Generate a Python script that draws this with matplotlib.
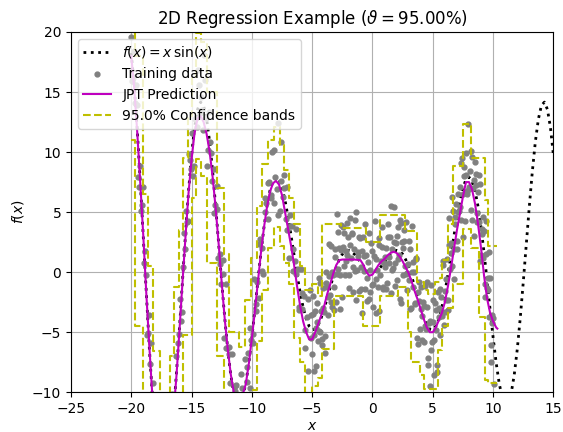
import numpy as np
import matplotlib.pyplot as plt

# true function f(x) = x sin(x), sampled every 0.25 from -20 to 15
F_X = np.linspace(-20, 15, 141)
F_Y = [18.26, 15.48, 11.81, 7.50, 2.85, -1.86, -6.33, -10.30, -13.52, -15.82,
       -17.07, -17.24, -16.34, -14.47, -11.75, -8.38, -4.61, -0.66, 3.20, 6.74,
       9.75, 12.07, 13.56, 14.16, 13.87, 12.73, 10.85, 8.37, 5.46, 2.33,
       -0.83, -3.81, -6.44, -8.56, -10.07, -10.89, -11.00, -10.42, -9.24, -7.53,
       -5.44, -3.12, -0.71, 1.61, 3.71, 5.47, 6.79, 7.57, 7.92, 7.71,
       7.04, 5.97, 4.60, 3.04, 1.40, -0.21, -1.68, -2.93, -3.88, -4.51,
       -4.79, -4.75, -4.40, -3.80, -3.03, -2.14, -1.23, -0.35, 0.42, 1.05,
       1.50, 1.75, 1.82, 1.72, 1.50, 1.19, 0.84, 0.51, 0.24, 0.06,
       0.00,
       0.06, 0.24, 0.51, 0.84, 1.19, 1.50, 1.72, 1.82, 1.75, 1.50,
       1.05, 0.42, -0.35, -1.23, -2.14, -3.03, -3.80, -4.40, -4.75, -4.79,
       -4.51, -3.88, -2.93, -1.68, -0.21, 1.40, 3.04, 4.60, 5.97, 7.04,
       7.71, 7.92, 7.57, 6.79, 5.47, 3.71, 1.61, -0.71, -3.12, -5.44,
       -7.53, -9.24, -10.42, -11.00, -10.89, -10.07, -8.56, -6.44, -3.81, -0.83,
       2.33, 5.46, 8.37, 10.85, 12.73, 13.87, 14.16, 13.56, 12.07, 9.75]

# noisy training samples (first batch)
X_TRAIN = [
    -20.06, -19.93, -19.81, -19.68, -19.56, -19.43, -19.31, -19.18, -19.06, -18.93,
    -18.81, -18.68, -18.56, -18.43, -18.31, -18.18, -18.06, -17.93, -17.81, -17.68,
    -17.56, -17.43, -17.31, -17.18, -17.06, -16.93, -16.81, -16.68, -16.56, -16.43,
    -16.31, -16.18, -16.06, -15.93, -15.81, -15.68, -15.56, -15.43, -15.31, -15.18,
    -15.06, -14.93, -14.81, -14.68, -14.56, -14.43, -14.31, -14.18, -14.06, -13.93,
    -13.81, -13.68, -13.56, -13.43, -13.31, -13.18, -13.06, -12.93, -12.81, -12.68,
    -12.56, -12.43, -12.31, -12.18, -12.06, -11.93, -11.81, -11.68, -11.56, -11.43,
    -11.31, -11.18, -11.06, -10.93, -10.81, -10.68, -10.56, -10.43, -10.31, -10.18,
    -10.06, -9.93, -9.81, -9.68, -9.56, -9.43, -9.31, -9.18, -9.06, -8.93,
    -8.81, -8.68, -8.56, -8.43, -8.31, -8.18, -8.06, -7.93, -7.81, -7.68,
    -7.56, -7.43, -7.31, -7.18, -7.06, -6.93, -6.81, -6.68, -6.56, -6.43,
    -6.31, -6.18, -6.06, -5.93, -5.81, -5.68, -5.56, -5.43, -5.31, -5.18,
    -5.08, -5.0, -4.92, -4.83, -4.75, -4.67, -4.58, -4.5, -4.42, -4.33,
    -4.25, -4.17, -4.08, -4.0, -3.92, -3.83, -3.75, -3.67, -3.58, -3.5,
    -3.42, -3.33, -3.25, -3.17, -3.08, -3.0, -2.92, -2.83, -2.75, -2.67,
    -2.58, -2.5, -2.42, -2.33, -2.25, -2.17, -2.08, -2.0, -1.92, -1.83,
    -1.75, -1.67, -1.58, -1.5, -1.42, -1.33, -1.25, -1.17, -1.08, -1.0,
    -0.92, -0.83, -0.75, -0.67, -0.58, -0.5, -0.42, -0.33, -0.25, -0.17,
    -0.08, 0.0, 0.08, 0.17, 0.25, 0.33, 0.42, 0.5, 0.58, 0.67,
    0.75, 0.83, 0.92, 1.0, 1.08, 1.17, 1.25, 1.33, 1.42, 1.5,
    1.58, 1.67, 1.75, 1.83, 1.92, 2.0, 2.08, 2.17, 2.25, 2.33,
    2.42, 2.5, 2.58, 2.67, 2.75, 2.83, 2.92, 3.0, 3.08, 3.17,
    3.25, 3.33, 3.42, 3.5, 3.58, 3.67, 3.75, 3.83, 3.92, 4.0,
    4.08, 4.17, 4.25, 4.33, 4.42, 4.5, 4.58, 4.67, 4.75, 4.83,
    4.92, 5.0, 5.08, 5.17, 5.25, 5.33, 5.42, 5.5, 5.58, 5.67,
    5.75, 5.83, 5.92, 6.0, 6.08, 6.17, 6.25, 6.33, 6.42, 6.5,
    6.58, 6.67, 6.75, 6.83, 6.92, 7.0, 7.08, 7.17, 7.25, 7.33,
    7.42, 7.5, 7.58, 7.67, 7.75, 7.83, 7.92, 8.0, 8.08, 8.17,
    8.25, 8.33, 8.42, 8.5, 8.58, 8.67, 8.75, 8.83, 8.92, 9.0,
    9.08, 9.17, 9.25, 9.33, 9.42, 9.5, 9.58, 9.67, 9.75, 9.83,
    9.92, 10.0, 10.08]
Y_TRAIN = [
    19.57, 15.88, 18.45, 14.05, 13.89, 7.90, 8.83, 5.10, 7.07, 0.73,
    -0.23, -5.21, -3.56, -7.64, -12.75, -9.20, -12.05, -15.56, -14.27, -16.77,
    -14.17, -19.02, -17.10, -17.90, -15.06, -18.22, -11.32, -14.21, -11.60, -12.01,
    -6.99, -10.32, -5.11, -2.20, -3.31, 0.42, 1.97, 5.09, 4.29, 9.88,
    8.63, 11.60, 8.81, 12.79, 12.10, 16.83, 13.22, 14.58, 11.84, 18.10,
    12.80, 8.80, 13.30, 10.86, 7.57, 8.56, 5.56, 7.18, 1.18, 1.55,
    -0.97, -0.16, -5.49, -0.95, -6.31, -6.24, -9.25, -6.78, -12.71, -9.90,
    -9.39, -12.62, -10.97, -11.14, -9.66, -11.69, -7.22, -9.16, -6.74, -9.64,
    -5.64, -5.89, -0.58, -3.25, -0.79, -2.16, 2.75, 2.00, -0.19, 6.20,
    5.75, 4.44, 7.47, 6.41, 9.98, 5.77, 7.94, 6.96, 12.40, 5.12,
    10.80, 6.24, 7.03, 4.39, 7.13, 1.16, 3.81, 3.88, 0.09, 0.95,
    -0.12, 0.28, -2.93, 0.27, -3.03, -2.00, -6.35, -3.76, -8.20, -1.49,
    -3.60, -6.79, -1.98, -5.26, -3.25, -7.84, -4.11, -5.70, -0.51, -4.99,
    -3.20, -6.05, -1.28, -3.33, -6.75, -0.02, -1.24, -3.55, -0.32, -1.93,
    2.15, -2.93, -0.25, -1.20, 1.97, -2.48, 4.82, 0.25, 2.05, -0.21,
    3.96, -2.10, 2.08, 3.27, -0.25, 1.77, 1.40, 2.92, -0.21, 4.55,
    1.22, 3.15, -1.63, 1.90, 0.10, 4.99, 0.19, 1.68, -1.55, 2.84,
    0.43, -3.38, 2.91, 1.32, -1.37, 1.44, -0.52, 3.22, -2.24, 0.14,
    -1.08, 1.80, -2.88, 4.24, -0.54, 1.12, -1.22, 2.84, -3.27, 0.92,
    2.11, -1.38, 0.73, 0.44, 2.05, -0.92, 3.99, 0.79, 2.90, -1.70,
    1.97, 0.35, 5.42, 0.75, 2.39, -0.68, 3.80, 1.47, -2.25, 4.07,
    2.48, -0.20, 2.56, 0.49, 4.15, -1.45, 0.72, -0.68, 1.97, -3.00,
    3.85, -1.23, 0.05, -2.63, 1.08, -5.45, -1.64, -0.82, -4.75, -3.03,
    -3.68, -2.45, -5.80, -1.19, -4.71, -2.90, -7.71, -4.24, -9.50, -1.06,
    -5.78, -4.19, -8.60, -2.60, -4.81, -8.31, -1.68, -2.98, -5.27, -2.03,
    -3.63, 0.57, -4.38, -1.58, -2.31, 1.12, -3.11, 4.51, 0.28, 2.40,
    0.52, 5.12, -0.56, 4.04, 5.70, 2.60, 5.04, 5.13, 7.07, 4.31,
    9.50, 6.54, 8.75, 4.30, 8.11, 6.48, 12.30, 6.92, 8.41, 5.18,
    9.57, 7.02, 3.04, 9.19, 7.27, 4.19, 6.67, 4.21, 7.37, 1.41,
    3.14, 1.18, 3.41, -2.03, 4.23, -1.31, -0.48, -3.75, -0.52, -7.46,
    -4.20, -3.84, -9.30]

# noisy training samples (second batch)
X_TRAIN2 = [
    -19.875, -19.625, -19.375, -19.125, -18.875, -18.625, -18.375, -18.125,
    -17.875, -17.625, -17.375, -17.125, -16.875, -16.625, -16.375, -16.125,
    -15.875, -15.625, -15.375, -15.125, -14.875, -14.625, -14.375, -14.125,
    -13.875, -13.625, -13.375, -13.125, -12.875, -12.625, -12.375, -12.125,
    -11.875, -11.625, -11.375, -11.125, -10.875, -10.625, -10.375, -10.125,
    -9.875, -9.625, -9.375, -9.125, -8.875, -8.625, -8.375, -8.125,
    -7.875, -7.625, -7.375, -7.125, -6.875, -6.625, -6.375, -6.125,
    -5.875, -5.625, -5.375, -5.125,
    -4.96, -4.875, -4.71, -4.625, -4.46, -4.375, -4.21, -4.125, -3.96, -3.875,
    -3.71, -3.625, -3.46, -3.375, -3.21, -3.125, -2.96, -2.875, -2.71, -2.625,
    -2.46, -2.375, -2.21, -2.125, -1.96, -1.875, -1.71, -1.625, -1.46, -1.375,
    -1.21, -1.125, -0.96, -0.875, -0.71, -0.625, -0.46, -0.375, -0.21, -0.125,
    0.04, 0.125, 0.29, 0.375, 0.54, 0.625, 0.79, 0.875, 1.04, 1.125,
    1.29, 1.375, 1.54, 1.625, 1.79, 1.875, 2.04, 2.125, 2.29, 2.375,
    2.54, 2.625, 2.79, 2.875, 3.04, 3.125, 3.29, 3.375, 3.54, 3.625,
    3.79, 3.875, 4.04, 4.125, 4.29, 4.375, 4.54, 4.625, 4.79, 4.875,
    5.04, 5.125, 5.29, 5.375, 5.54, 5.625, 5.79, 5.875, 6.04, 6.125,
    6.29, 6.375, 6.54, 6.625, 6.79, 6.875, 7.04, 7.125, 7.29, 7.375,
    7.54, 7.625, 7.79, 7.875, 8.04, 8.125, 8.29, 8.375, 8.54, 8.625,
    8.79, 8.875, 9.04, 9.125, 9.29, 9.375, 9.54, 9.625, 9.79, 9.875]
Y_TRAIN2 = [
    16.17, 15.55, 7.06, 5.58, 1.80, -5.10, -5.92, -15.01,
    -14.47, -14.85, -18.96, -15.89, -15.71, -10.11, -12.27, -5.90,
    -4.04, 3.27, 4.17, 9.35, 8.01, 12.82, 15.56, 13.52,
    16.00, 10.19, 9.91, 4.92, 5.30, 0.65, 0.98, -6.33,
    -6.80, -11.72, -9.48, -11.55, -8.51, -13.33, -7.89, -4.69,
    -5.18, -2.62, 2.35, 0.06, 4.99, 7.43, 6.18, 10.15,
    4.72, 7.58, 8.11, 3.49, 4.72, 1.92, 3.60, -3.15,
    -1.71, -4.81, -2.20, -5.45,
    -3.48, -8.27, -4.69, -2.58, -4.90, -0.90, -5.58, -3.02, -5.29, -0.89,
    -2.09, 2.31, -2.49, 0.01, -3.13, 1.24, -0.18, 3.34, -3.08, 1.88,
    3.74, 0.53, 0.96, 4.09, -1.30, 2.27, 3.28, 0.41, 4.35, -2.35,
    1.33, 2.92, -1.41, 1.78, 0.07, 3.98, -2.39, 0.85, -1.65, 2.43,
    -0.99, 1.33, -3.41, 0.15, 2.28, -0.22, 3.76, -1.22, 1.30, -1.38,
    2.94, 1.25, 5.54, 0.21, 2.54, -1.13, 3.01, 1.09, 4.31, -2.57,
    2.03, 3.48, -0.15, -0.06, 2.60, -3.06, 0.01, 0.81, -2.58, 1.21,
    -5.98, -2.39, -1.25, -5.62, -2.80, -4.50, -0.86, -7.18, -4.06, -6.47,
    -2.35, -5.65, -3.11, -7.70, -3.73, -1.41, -3.33, 0.89, -3.34, -0.55,
    -2.35, 2.30, 1.56, 6.22, 1.89, 4.62, 1.92, 6.49, 5.44, 9.11,
    2.95, 7.98, 9.94, 6.72, 7.06, 10.05, 4.35, 7.68, 8.18, 4.93,
    8.09, 0.89, 3.57, 4.56, -0.96, 1.55, -1.50, 1.68, -6.09, -3.58]

# JPT prediction (expected value)
PRED_X = [-20, -19.75, -19.5, -19.25, -19, -18.75, -18.5, -18.25, -18,
          -17.5, -17, -16.5,
          -16.25, -16, -15.75, -15.5, -15.25, -15, -14.75, -14.5, -14.25, -14,
          -13.75, -13.5, -13.25, -13, -12.75, -12.5, -12.25, -12, -11.75, -11.5,
          -11, -10.5,
          -10.25, -10, -9.75, -9.5, -9.25, -9, -8.75, -8.5, -8.25, -8,
          -7.75, -7.5, -7.25, -7, -6.75, -6.5, -6.25, -6, -5.75, -5.5,
          -5.25, -5, -4.75, -4.5, -4.25, -4, -3.75, -3.5, -3.25, -3,
          -2.75, -2.5, -2, -1.5, -1,
          -0.75, -0.5, -0.25, 0, 0.25, 0.5, 0.75, 1, 1.25, 1.5,
          1.75, 2, 2.25, 2.5, 2.75, 3, 3.25, 3.5, 3.75, 4,
          4.25, 4.5, 4.75, 5, 5.25, 5.5, 5.75, 6, 6.25, 6.5,
          6.75, 7, 7.25, 7.5, 7.75, 8, 8.25, 8.5, 8.75, 9,
          9.25, 9.5, 9.75, 10, 10.25, 10.35]
PRED_Y = [18.0, 15.3, 11.6, 7.4, 3.0, -1.8, -6.2, -10.3, -13.5,
          -17.0, -16.3, -11.8,
          -8.6, -4.8, -0.8, 3.0, 6.6, 9.4, 11.6, 12.8, 13.0, 12.5,
          11.5, 10.0, 7.9, 5.3, 2.3, -0.9, -3.9, -6.4, -8.5, -10.0,
          -11.0, -9.3,
          -7.6, -5.5, -3.2, -0.8, 1.6, 3.7, 5.4, 6.7, 7.4, 7.6,
          7.3, 6.4, 5.0, 3.6, 2.2, 0.6, -1.2, -2.8, -4.1, -5.0,
          -5.6, -5.6, -5.0, -4.3, -3.6, -2.8, -1.8, -1.0, -0.1, 0.6,
          1.0, 1.05, 1.05, 1.05, 1.0,
          0.6, 0.0, -0.3, -0.2, 0.2, 0.6, 0.9, 1.1, 1.4, 1.6,
          1.7, 1.6, 1.3, 0.9, 0.4, -0.1, -0.8, -1.6, -2.3, -3.1,
          -3.9, -4.6, -5.0, -5.0, -4.6, -4.0, -3.4, -2.5, -1.2, 0.3,
          1.9, 3.5, 4.9, 6.3, 7.5, 7.5, 6.9, 5.7, 4.0, 2.0,
          -0.3, -2.2, -3.4, -4.1, -4.6, -4.7]

# confidence bands, piecewise constant (value holds from each x to the next)
BAND_X = [-20.0, -19.7, -19.0, -18.6, -18.2, -17.6, -16.8, -16.45, -16.0, -15.7,
          -15.3, -15.0, -14.6, -14.2, -13.7, -12.85, -12.3, -11.9, -11.1, -10.6,
          -10.1, -9.6, -9.2, -8.7, -8.2, -7.7, -7.3, -6.9, -6.5, -6.0,
          -5.6, -5.0, -4.5, -4.2, -3.2, -2.6, -0.8, -0.5, 0.65, 2.1,
          2.7, 2.95, 3.2, 3.7, 3.9, 4.3, 4.6, 5.2, 5.4, 5.6,
          5.8, 6.25, 6.7, 7.5, 8.15, 8.8, 9.3, 9.6, 10.35]
BAND_UP = [21.5, 18.0, 6.5, 0.5, -6.6, -12.5, -7.0, -1.2, 3.5, 9.5,
           13.0, 16.2, 19.9, 19.2, 15.0, 7.0, 1.5, -5.0, -6.2, -2.3,
           1.2, 5.5, 9.0, 11.0, 12.1, 10.6, 8.5, 6.2, 4.0, 0.5,
           -1.5, -1.0, -2.0, 4.0, 4.0, 3.7, 3.7, 2.5, 4.8, 4.8,
           3.4, 3.4, 3.4, -0.8, -0.8, -1.5, -1.8, -0.8, -0.8, -0.5,
           1.0, 4.0, 8.8, 12.3, 9.5, 9.5, 6.0, 2.2, 2.2]
BAND_LO = [11.0, -4.5, -11.5, -14.5, -20.0, -21.0, -19.0, -15.0, -10.5, -5.2,
           -5.2, 6.2, 9.4, 8.0, 0.8, -7.0, -11.0, -14.5, -14.8, -13.5,
           -9.8, -5.7, -1.5, 2.0, 3.8, 2.2, 0.8, -1.0, -5.5, -7.5,
           -10.5, -9.5, -8.8, -6.4, -2.0, -2.0, -4.5, -4.5, -2.0, -1.2,
           -1.2, -5.0, -7.5, -7.5, -8.6, -9.7, -9.7, -9.7, -6.5, -6.5,
           -4.5, -3.0, -1.0, 3.6, 2.0, -3.7, -9.0, -9.2, -9.2]

fig = plt.figure(figsize=(5.63, 4.32), dpi=100)
ax = fig.add_axes([0.126, 0.092, 0.857, 0.834])

ax.plot(F_X, F_Y, 'k:', lw=2, label=r'$f(x) = x\,\sin(x)$')
ax.plot(X_TRAIN + X_TRAIN2, Y_TRAIN + Y_TRAIN2, '.', color='gray', ms=7,
        label='Training data')
ax.plot(PRED_X, PRED_Y, 'm-', label='JPT Prediction')
ax.plot(BAND_X, BAND_UP, 'y--', drawstyle='steps-post',
        label='95.0% Confidence bands')
ax.plot(BAND_X, BAND_LO, 'y--', drawstyle='steps-post')

ax.set_xlim(-25, 15)
ax.set_ylim(-10, 20)
ax.grid(True)
ax.set_xlabel('$x$', labelpad=2)
ax.set_ylabel('$f(x)$')
ax.set_title(r'2D Regression Example ($\vartheta = 95.00\%$)')
ax.legend(loc='upper left')

fig.savefig('out.png')
